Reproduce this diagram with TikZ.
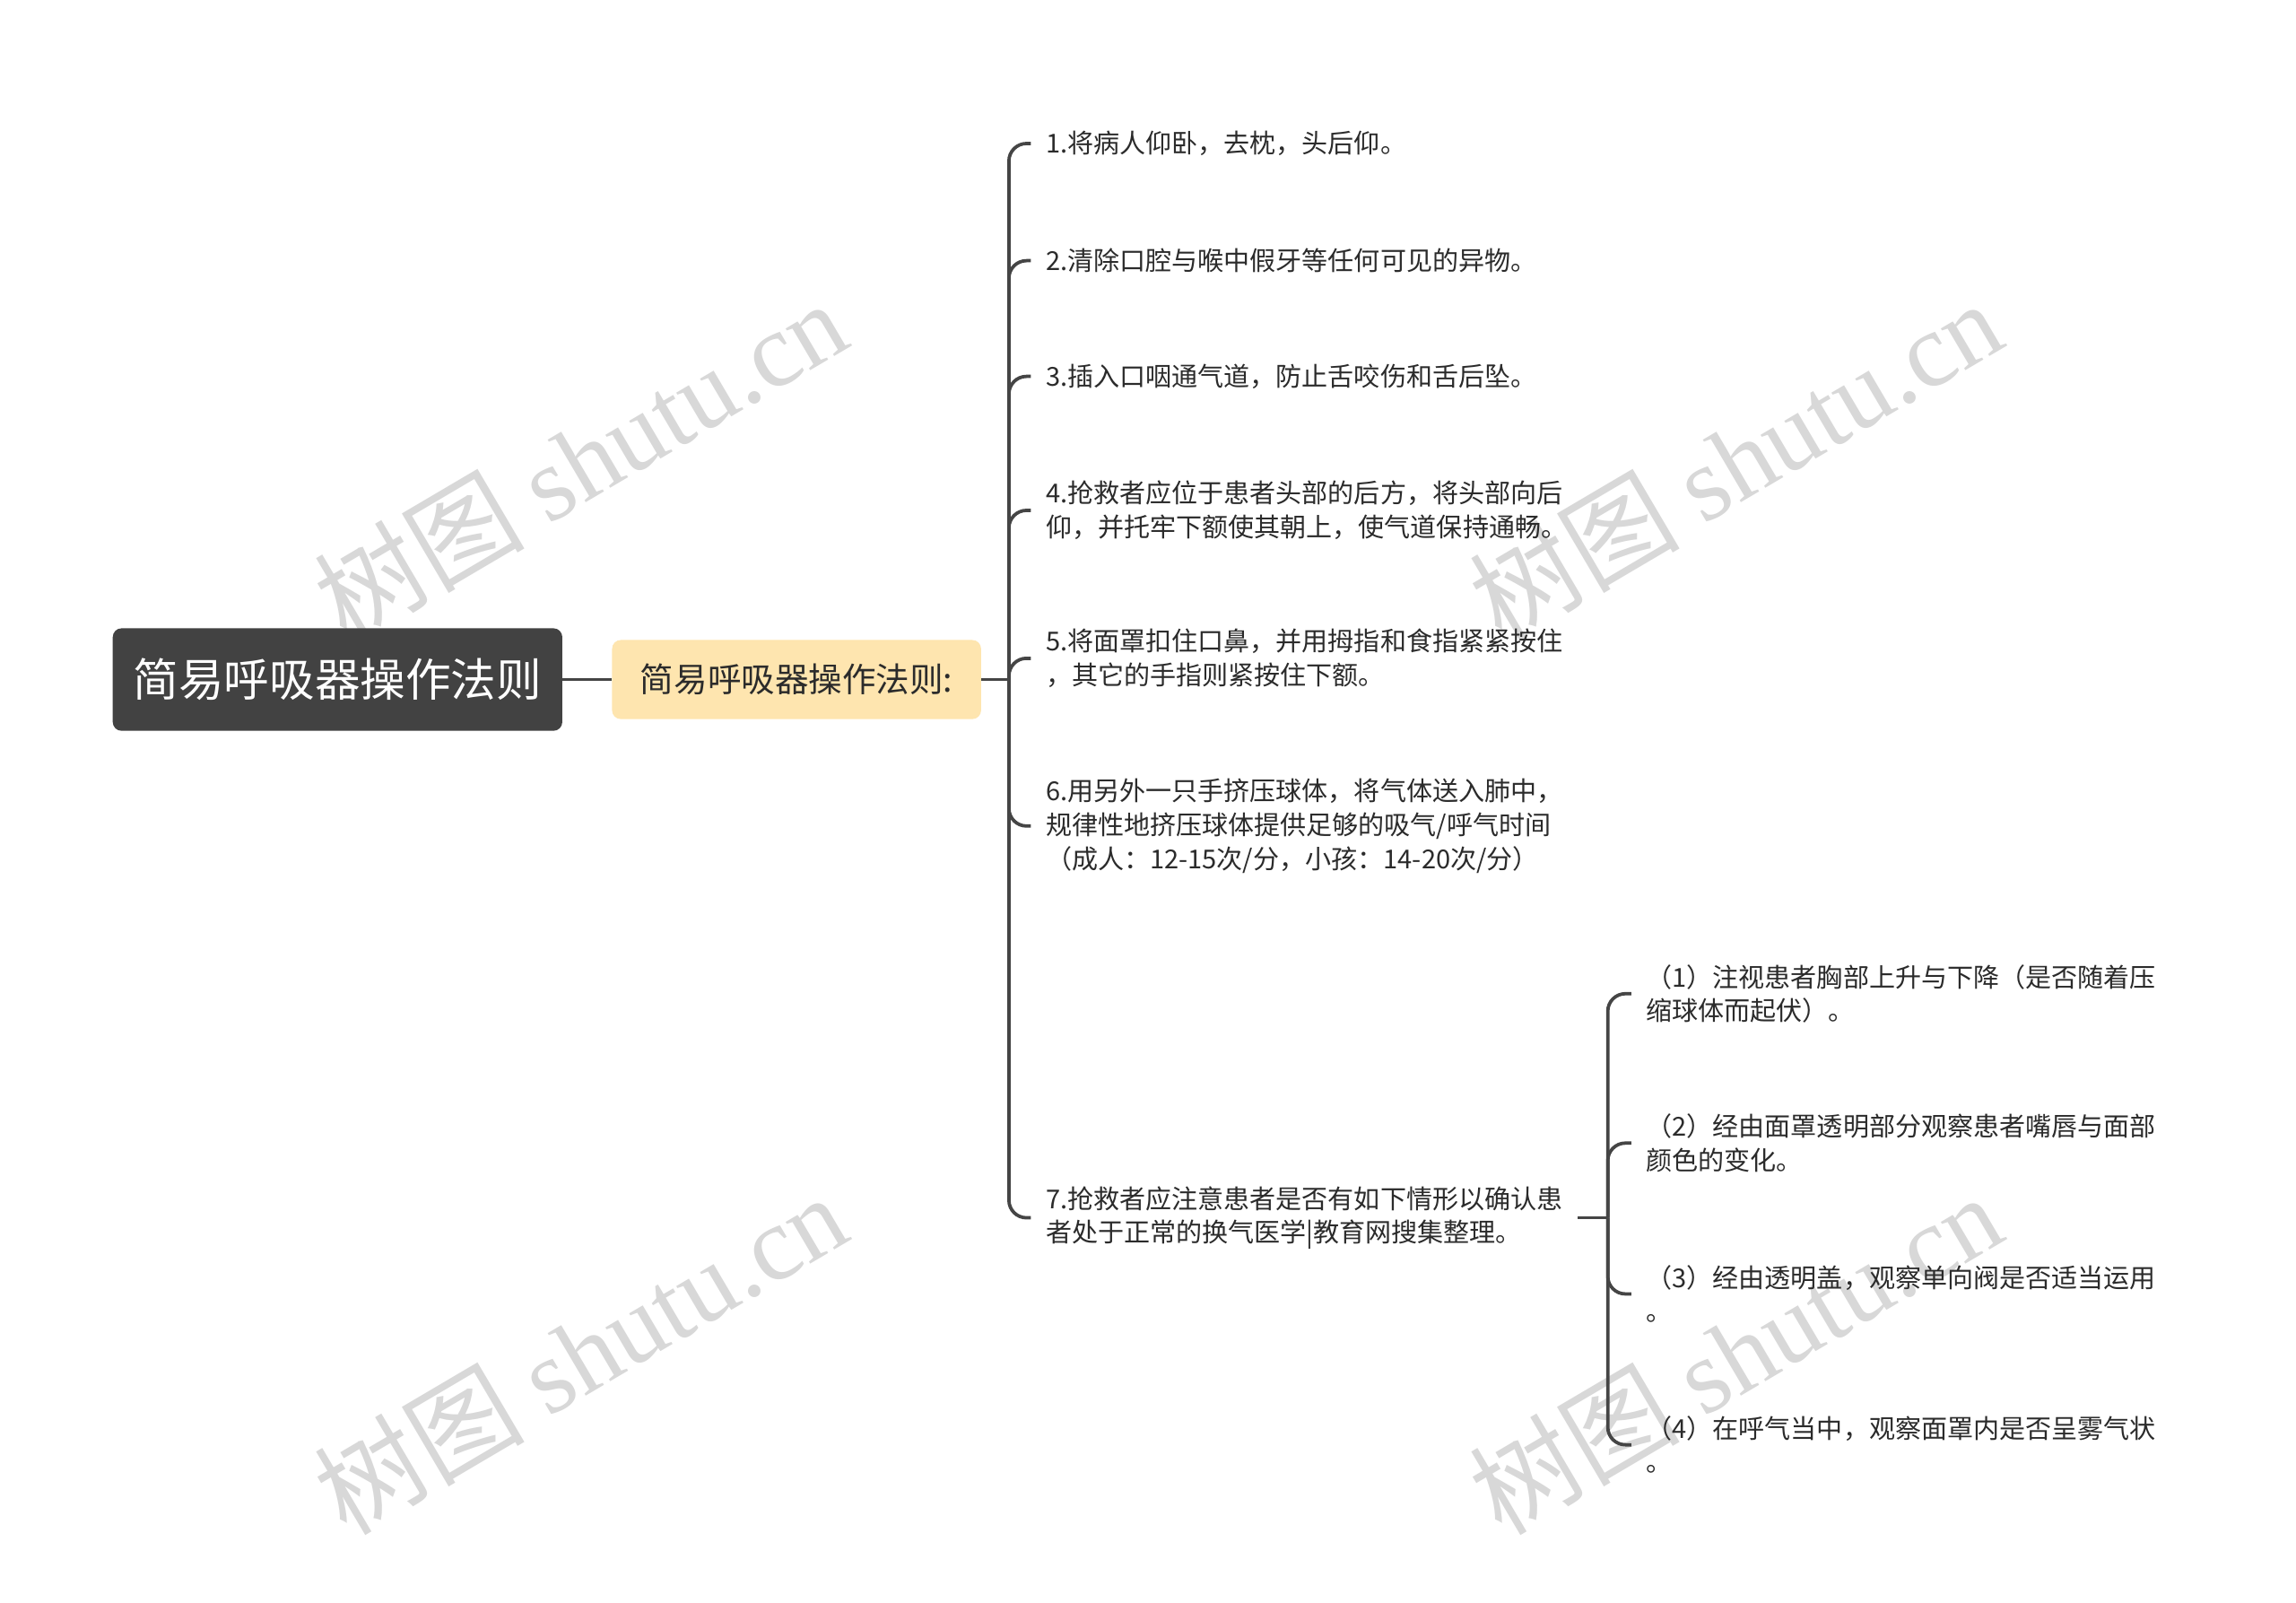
\documentclass[tikz,border=0pt]{standalone}
\usepackage{fontspec}
\setmainfont{Noto Sans CJK SC}
\newfontfamily\wmserif{Liberation Serif}
\definecolor{rootfill}{HTML}{424242}
\definecolor{secfill}{HTML}{FEE5AF}
\definecolor{linec}{HTML}{454545}
\definecolor{txt}{HTML}{2B2B2B}
\definecolor{wm}{HTML}{D8D8D8}
\begin{document}
\begin{tikzpicture}[x=1pt,y=-1pt,
  conn/.style={draw=linec,line width=2.3pt,rounded corners=12pt},
  stub/.style={draw=linec,line width=2.3pt},
  rootbox/.style={fill=rootfill,rounded corners=6pt,minimum width=307pt,minimum height=70pt,text=white,font=\fontsize{31}{36}\selectfont,inner sep=0pt},
  secbox/.style={fill=secfill,rounded corners=6pt,minimum width=252pt,minimum height=54pt,text=txt,font=\fontsize{23}{26}\selectfont,inner sep=0pt},
  leaf/.style={anchor=west,align=left,text=txt,font=\fontsize{17.8}{23}\selectfont,inner xsep=10pt,inner ysep=2pt},
  wmark/.style={text=wm,rotate=30.5,font=\fontsize{72}{72}\selectfont,inner sep=0pt}
]
\useasboundingbox[fill=white] (0,0) rectangle (1568,1094);

% watermarks
\node[wmark] (w1) at (396,314) {树图 {\wmserif shutu.cn}};
\node[wmark] (w2) at (1185,314) {树图 {\wmserif shutu.cn}};
\node[wmark] (w3) at (396,924) {树图 {\wmserif shutu.cn}};
\node[wmark] (w4) at (1185,924) {树图 {\wmserif shutu.cn}};

% main nodes
\node[rootbox] (root) at (230.5,464) {简易呼吸器操作法则};
\node[secbox] (sec) at (544,464) {简易呼吸器操作法则:};

% leaves
\node[leaf] (l1) at (704,98) {1.将病人仰卧，去枕，头后仰。};
\node[leaf] (l2) at (704,178) {2.清除口腔与喉中假牙等任何可见的异物。};
\node[leaf] (l3) at (704,257) {3.插入口咽通气道，防止舌咬伤和舌后坠。};
\node[leaf] (l4) at (704,348.5) {4.抢救者应位于患者头部的后方，将头部向后\\仰，并托牢下额使其朝上，使气道保持通畅。};
\node[leaf] (l5) at (704,449.5) {5.将面罩扣住口鼻，并用拇指和食指紧紧按住\\，其它的手指则紧按住下额。};
\node[leaf] (l6) at (704,564) {6.用另外一只手挤压球体，将气体送入肺中，\\规律性地挤压球体提供足够的吸气/呼气时间\\（成人：12-15次/分，小孩：14-20次/分）};
\node[leaf] (l7) at (704,831.5) {7.抢救者应注意患者是否有如下情形以确认患\\者处于正常的换气医学|教育网搜集整理。};

% sub leaves
\node[leaf] (s1) at (1114,678.5) {（1）注视患者胸部上升与下降（是否随着压\\缩球体而起伏）。};
\node[leaf] (s2) at (1114,780.5) {（2）经由面罩透明部分观察患者嘴唇与面部\\颜色的变化。};
\node[leaf] (s3) at (1114,883.5) {（3）经由透明盖，观察单向阀是否适当运用\\。};
\node[leaf] (s4) at (1114,986.5) {（4）在呼气当中，观察面罩内是否呈雾气状\\。};

% connectors
\coordinate (t1) at (689,464);
\coordinate (t2) at (1098,831.5);
\draw[stub] (root.east) -- (sec.west);
\draw[stub] (sec.east) -- (t1);
\foreach \n in {l1,l2,l3,l4,l5,l6,l7} {\draw[conn] (t1) |- (\n.west);}
\draw[stub] (l7.east) -- (t2);
\foreach \n in {s1,s2,s3,s4} {\draw[conn] (t2) |- (\n.west);}
\end{tikzpicture}
\end{document}
